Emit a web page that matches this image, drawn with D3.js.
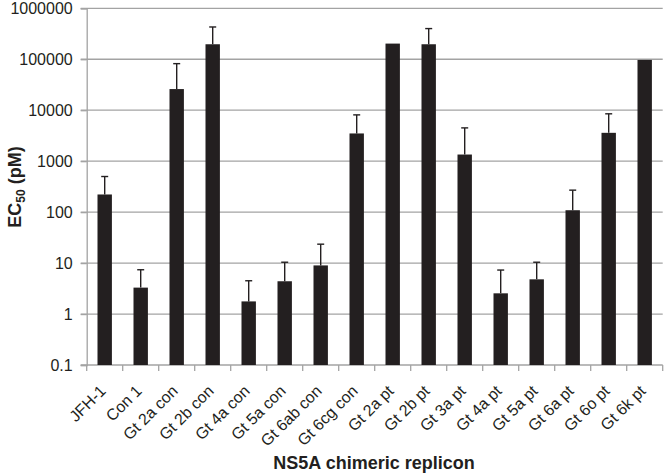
<!DOCTYPE html>
<html><head><meta charset="utf-8">
<script src="https://cdn.jsdelivr.net/npm/d3@7"></script>
<style>body{margin:0;background:#fff}svg{display:block}text{font-family:"Liberation Sans",Arial,sans-serif;fill:#231f20}</style>
</head><body>
<svg id="chart" width="666" height="476"></svg>
<script>
const categories = ["JFH-1","Con 1","Gt 2a con","Gt 2b con","Gt 4a con","Gt 5a con","Gt 6ab con","Gt 6cg con","Gt 2a pt","Gt 2b pt","Gt 3a pt","Gt 4a pt","Gt 5a pt","Gt 6a pt","Gt 6o pt","Gt 6k pt"];
const ec50 = [222, 3.3, 26000, 197000, 1.77, 4.4, 9.0, 3500, 203000, 197000, 1350, 2.55, 4.8, 109, 3600, 97000];
const ec50Upper = [500, 7.4, 82000, 430000, 4.5, 10.4, 23.5, 8100, null, 400000, 4500, 7.3, 10.4, 270, 8500, null];
const yTicks = [0.1, 1, 10, 100, 1000, 10000, 100000, 1000000];

(function () {
const svg = d3.select("#chart");
const mLeft = 86.7, mRight = 662.7, mTop = 8.3, mBottom = 365;
const x = d3.scaleBand().domain(categories).range([mLeft, mRight]).paddingInner(0.6).paddingOuter(0.3);
const xb = d3.scaleBand().domain(categories).range([mLeft, mRight]);
const y = d3.scaleLog().domain([0.1, 1e6]).range([mBottom, mTop]);
const grid = "#a3a3a3", dark = "#231f20";

// gridlines
svg.append("g").selectAll("line").data(yTicks.slice(1)).join("line")
  .attr("x1", mLeft - 6).attr("x2", mRight).attr("y1", d => y(d)).attr("y2", d => y(d))
  .attr("stroke", grid).attr("stroke-width", 1.3);

// y axis
const yAxis = svg.append("g").attr("transform", `translate(${mLeft},0)`)
  .call(d3.axisLeft(y).tickValues(yTicks).tickFormat(d => String(d)).tickSize(6).tickPadding(8));
yAxis.select(".domain").attr("stroke", grid).attr("stroke-width", 1.3);
yAxis.selectAll(".tick line").attr("stroke", grid).attr("stroke-width", 1.3);
yAxis.selectAll("text").attr("font-size", 16).attr("fill", dark).style("font-family", '"Liberation Sans",Arial,sans-serif');

// x axis line and band ticks
svg.append("line").attr("x1", mLeft - 6).attr("x2", mRight).attr("y1", mBottom).attr("y2", mBottom)
  .attr("stroke", grid).attr("stroke-width", 1.3);
const bounds = categories.map(c => xb(c)).concat([mRight]);
svg.append("g").selectAll("line").data(bounds).join("line")
  .attr("x1", d => d).attr("x2", d => d).attr("y1", mBottom).attr("y2", mBottom + 6)
  .attr("stroke", grid).attr("stroke-width", 1.3);

// bars
svg.append("g").selectAll("rect").data(categories).join("rect")
  .attr("x", d => x(d)).attr("width", x.bandwidth())
  .attr("y", (d, i) => y(ec50[i])).attr("height", (d, i) => mBottom - y(ec50[i]))
  .attr("fill", dark);

// error bars
const eb = svg.append("g").attr("stroke", dark).attr("stroke-width", 1.4);
categories.forEach((c, i) => {
  if (ec50Upper[i] == null) return;
  const cx = x(c) + x.bandwidth() / 2;
  eb.append("line").attr("x1", cx).attr("x2", cx).attr("y1", y(ec50[i])).attr("y2", y(ec50Upper[i]));
  eb.append("line").attr("x1", cx - 3.5).attr("x2", cx + 3.5).attr("y1", y(ec50Upper[i])).attr("y2", y(ec50Upper[i]));
});

// x labels
svg.append("g").selectAll("text").data(categories).join("text")
  .attr("transform", d => `translate(${x(d) + x.bandwidth() / 2 + 2},${mBottom + 27}) rotate(-45)`)
  .attr("text-anchor", "end").attr("font-size", 16).text(d => d);

// axis titles
svg.append("text").attr("x", 374).attr("y", 469).attr("text-anchor", "middle")
  .attr("font-size", 18).attr("font-weight", "bold").text("NS5A chimeric replicon");
const yt = svg.append("text").attr("transform", "translate(21,187) rotate(-90)")
  .attr("text-anchor", "middle").attr("font-size", 18).attr("font-weight", "bold");
yt.append("tspan").text("EC");
yt.append("tspan").attr("font-size", 12).attr("dy", 4).text("50");
yt.append("tspan").attr("dy", -4).text(" (pM)");
})();
</script>
</body></html>
